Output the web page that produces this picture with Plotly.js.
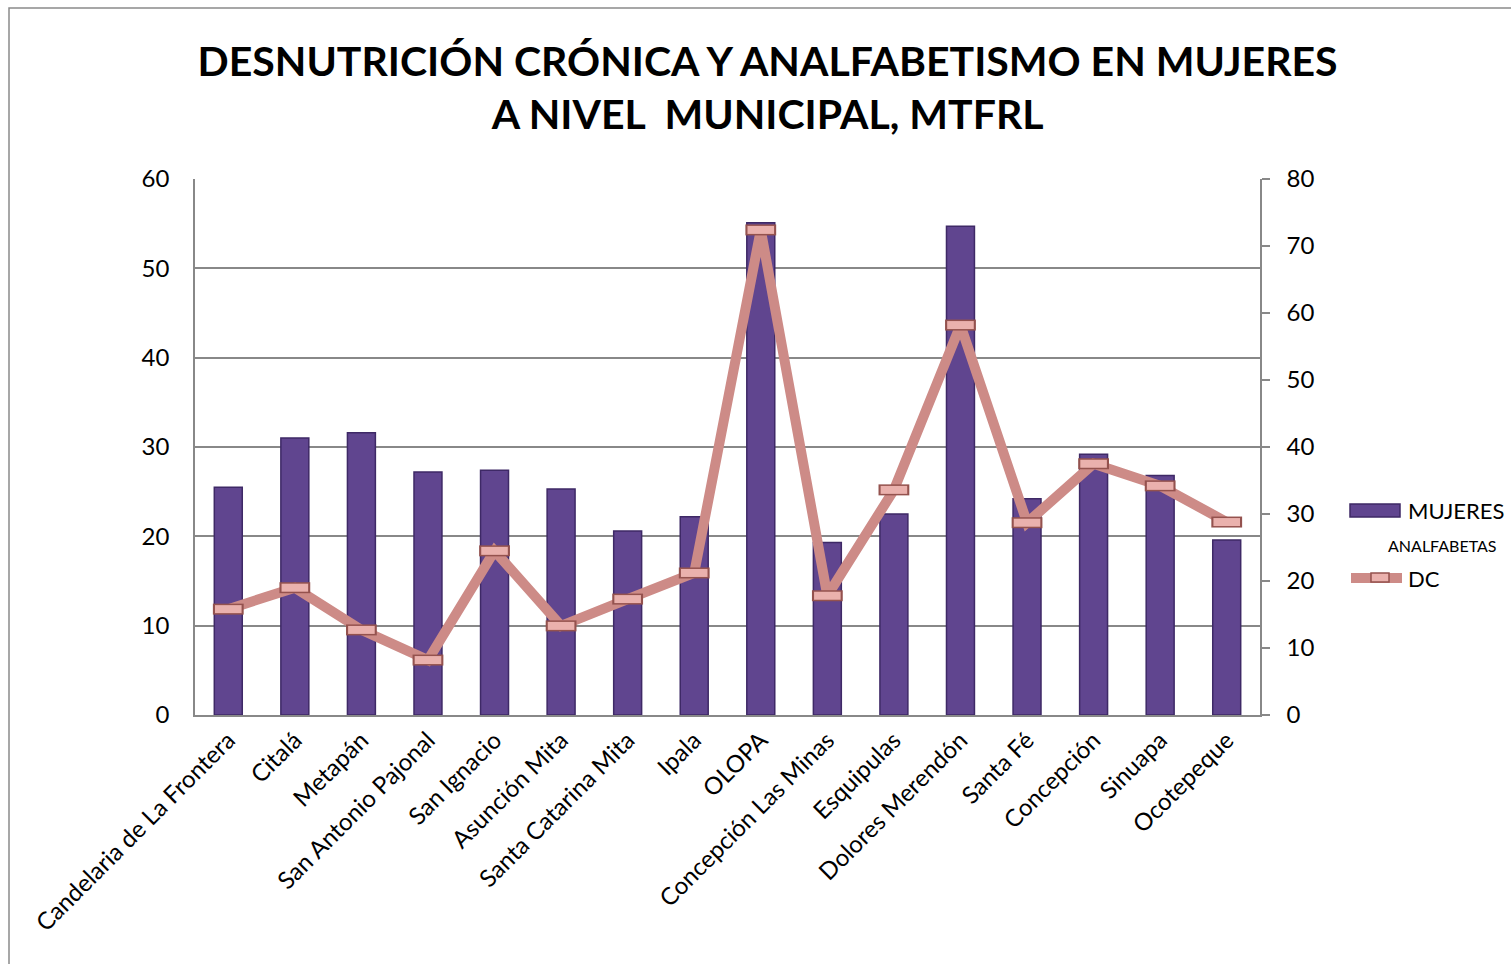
<!DOCTYPE html>
<html>
<head>
<meta charset="utf-8">
<script src="https://cdn.plot.ly/plotly-3.0.1.min.js"></script>
<style>
html,body{margin:0;padding:0;background:#fff;overflow:hidden;}
#chart{width:1511px;height:964px;}
</style>
</head>
<body>
<div id="chart"></div>
<script>
const municipios = ["Candelaria de La Frontera","Citalá","Metapán","San Antonio Pajonal","San Ignacio","Asunción Mita","Santa Catarina Mita","Ipala","OLOPA","Concepción Las Minas","Esquipulas","Dolores Merendón","Santa Fé","Concepción","Sinuapa","Ocotepeque"];
const mujeresAnalfabetas = [25.5, 31.0, 31.6, 27.2, 27.4, 25.3, 20.6, 22.2, 55.1, 19.3, 22.5, 54.7, 24.2, 29.2, 26.8, 19.6];
const dc = [15.8, 19.0, 12.7, 8.2, 24.5, 13.3, 17.3, 21.2, 72.4, 17.8, 33.6, 58.2, 28.7, 37.5, 34.2, 28.8];
const serieNames = ["MUJERES", "ANALFABETAS", "DC"];

const font = "Lato, 'Open Sans', sans-serif";

// plot area in pixels: x 195..1260, y 179..715
const px = v => (v - 195) / 1065;
const py = v => (715 - v) / 536;

const traces = [
  {
    type: "bar",
    x: municipios,
    y: mujeresAnalfabetas,
    name: serieNames[0] + " " + serieNames[1],
    marker: {color: "#60458f", line: {color: "#3e2966", width: 1.5}},
    yaxis: "y"
  },
  {
    type: "scatter",
    mode: "lines",
    x: municipios,
    y: dc,
    name: serieNames[2],
    yaxis: "y2",
    line: {color: "#cd8b87", width: 10}
  },
  {
    type: "scatter",
    mode: "markers",
    x: municipios,
    y: dc,
    name: serieNames[2],
    yaxis: "y2",
    hoverinfo: "skip",
    marker: {symbol: "line-ew", size: 22, line: {color: "#94524e", width: 11}}
  },
  {
    type: "scatter",
    mode: "markers",
    x: municipios,
    y: dc,
    name: serieNames[2],
    yaxis: "y2",
    marker: {symbol: "line-ew", size: 19, line: {color: "#eab1ad", width: 8}}
  }
];

const layout = {
  width: 1511,
  height: 964,
  margin: {l: 195, r: 251, t: 179, b: 249},
  paper_bgcolor: "#ffffff",
  plot_bgcolor: "#ffffff",
  font: {family: font, color: "#000", size: 24},
  title: {
    text: "<b>DESNUTRICIÓN CRÓNICA Y ANALFABETISMO EN MUJERES<br>A NIVEL  MUNICIPAL, MTFRL</b>",
    font: {family: font, size: 41, color: "#000"},
    xref: "container", yref: "container",
    x: 0.508, xanchor: "center",
    y: 0.921, yanchor: "middle"
  },
  bargap: 0.58,
  showlegend: false,
  xaxis: {
    type: "category",
    range: [-0.5, 15.5],
    tickangle: -45,
    tickfont: {family: font, size: 24},
    showline: true,
    linecolor: "#888",
    linewidth: 1.5,
    ticks: "",
    showgrid: false
  },
  yaxis: {
    range: [0, 60],
    dtick: 10,
    tickfont: {family: font, size: 24},
    showgrid: true,
    gridcolor: "#888",
    gridwidth: 1.5,
    showline: true,
    linecolor: "#888",
    linewidth: 1.5,
    ticks: "",
    zeroline: false,
    ticklabelstandoff: 19
  },
  yaxis2: {
    range: [0, 80],
    dtick: 10,
    overlaying: "y",
    side: "right",
    tickfont: {family: font, size: 24},
    showgrid: false,
    showline: true,
    linecolor: "#888",
    linewidth: 1.5,
    ticks: "outside",
    ticklen: 8,
    tickwidth: 1.5,
    tickcolor: "#888",
    zeroline: false,
    ticklabelstandoff: 12
  },
  shapes: [
    {type: "rect", xref: "paper", yref: "paper",
     x0: px(9), x1: 1.5, y0: -0.6, y1: py(8),
     line: {color: "#8a8a8a", width: 1.5}, fillcolor: "rgba(0,0,0,0)", layer: "below"},
    // legend: bar symbol
    {type: "rect", xref: "paper", yref: "paper",
     x0: px(1350), x1: px(1400), y0: py(517), y1: py(504),
     line: {color: "#3e2966", width: 1.5}, fillcolor: "#60458f"},
    // legend: line symbol
    {type: "line", xref: "paper", yref: "paper",
     x0: px(1351), x1: px(1402), y0: py(578), y1: py(578),
     line: {color: "#cd8b87", width: 10}},
    {type: "rect", xref: "paper", yref: "paper",
     x0: px(1371), x1: px(1389), y0: py(582), y1: py(573),
     line: {color: "#94524e", width: 1.5}, fillcolor: "#eab1ad"}
  ],
  annotations: [
    {xref: "paper", yref: "paper", x: px(1406), y: py(510), xanchor: "left", yanchor: "middle",
     text: serieNames[0], showarrow: false, font: {family: font, size: 22, color: "#000"}},
    {xref: "paper", yref: "paper", x: px(1442), y: py(545), xanchor: "center", yanchor: "middle",
     text: serieNames[1], showarrow: false, font: {family: font, size: 16, color: "#000"}},
    {xref: "paper", yref: "paper", x: px(1406), y: py(578), xanchor: "left", yanchor: "middle",
     text: serieNames[2], showarrow: false, font: {family: font, size: 22, color: "#000"}}
  ]
};

Plotly.newPlot("chart", traces, layout, {displayModeBar: false});
</script>
</body>
</html>
